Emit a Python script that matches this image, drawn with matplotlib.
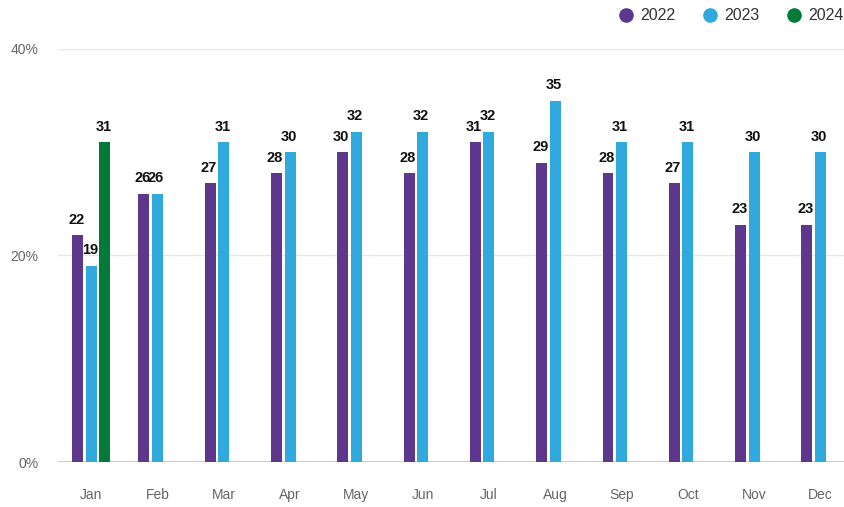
import numpy as np
import matplotlib.pyplot as plt
from matplotlib.lines import Line2D

plt.rcParams['font.family'] = ['Liberation Sans', 'DejaVu Sans']

# data
months = ['Jan', 'Feb', 'Mar', 'Apr', 'May', 'Jun', 'Jul', 'Aug', 'Sep', 'Oct', 'Nov', 'Dec']
v2022 = [22, 26, 27, 28, 30, 28, 31, 29, 28, 27, 23, 23]
v2023 = [19, 26, 31, 30, 32, 32, 32, 35, 31, 31, 30, 30]
v2024 = [31, None, None, None, None, None, None, None, None, None, None, None]
years = ['2022', '2023', '2024']
colors = ['#5d378b', '#30a9df', '#03793a']

fig = plt.figure(figsize=(8.45, 5.07), dpi=100)
ax = fig.add_axes([58 / 845, 1 - 462 / 507, 1 - 58 / 845, (462 - 49) / 507])

x = np.arange(len(months))
step = 0.205
width = 0.165

for i, (vals, col) in enumerate(zip([v2022, v2023, v2024], colors)):
    xs = [xi + (i - 1) * step for xi, v in zip(x, vals) if v is not None]
    ys = [v for v in vals if v is not None]
    ax.bar(xs, ys, width=width, color=col, zorder=3)
    for xx, yy in zip(xs, ys):
        ax.annotate(str(yy), (xx, yy), xytext=(-1, 6), textcoords='offset points',
                    ha='center', va='bottom', fontsize=10.5, fontweight='bold',
                    color='#111111', zorder=4)

ax.set_xlim(-0.5, 11.37)
ax.set_ylim(0, 40)
ax.set_yticks([0, 20, 40])
ax.set_yticklabels(['0%', '20%', '40%'])
ax.set_xticks(x)
ax.set_xticklabels(months)
ax.tick_params(axis='both', length=0, labelsize=10, colors='#666666')
ax.tick_params(axis='x', pad=19)
ax.tick_params(axis='y', pad=14)

ax.grid(axis='y', color='#e6e6e6', linewidth=1, zorder=0)
for s in ax.spines.values():
    s.set_visible(False)
ax.axhline(0, color='#cccccc', linewidth=1.5, zorder=2)
ax.set_axisbelow(True)

handles = [Line2D([], [], marker='o', linestyle='', markersize=9.5, color=c) for c in colors]
fig.legend(handles, years, loc='center left', bbox_to_anchor=(620 / 845, 1 - 16 / 507),
           ncol=3, frameon=False, handlelength=0.8, handletextpad=0.45,
           columnspacing=1.8, borderpad=0, borderaxespad=0, fontsize=11.5,
           labelcolor='#333333')

fig.savefig('out.png', dpi=100)
